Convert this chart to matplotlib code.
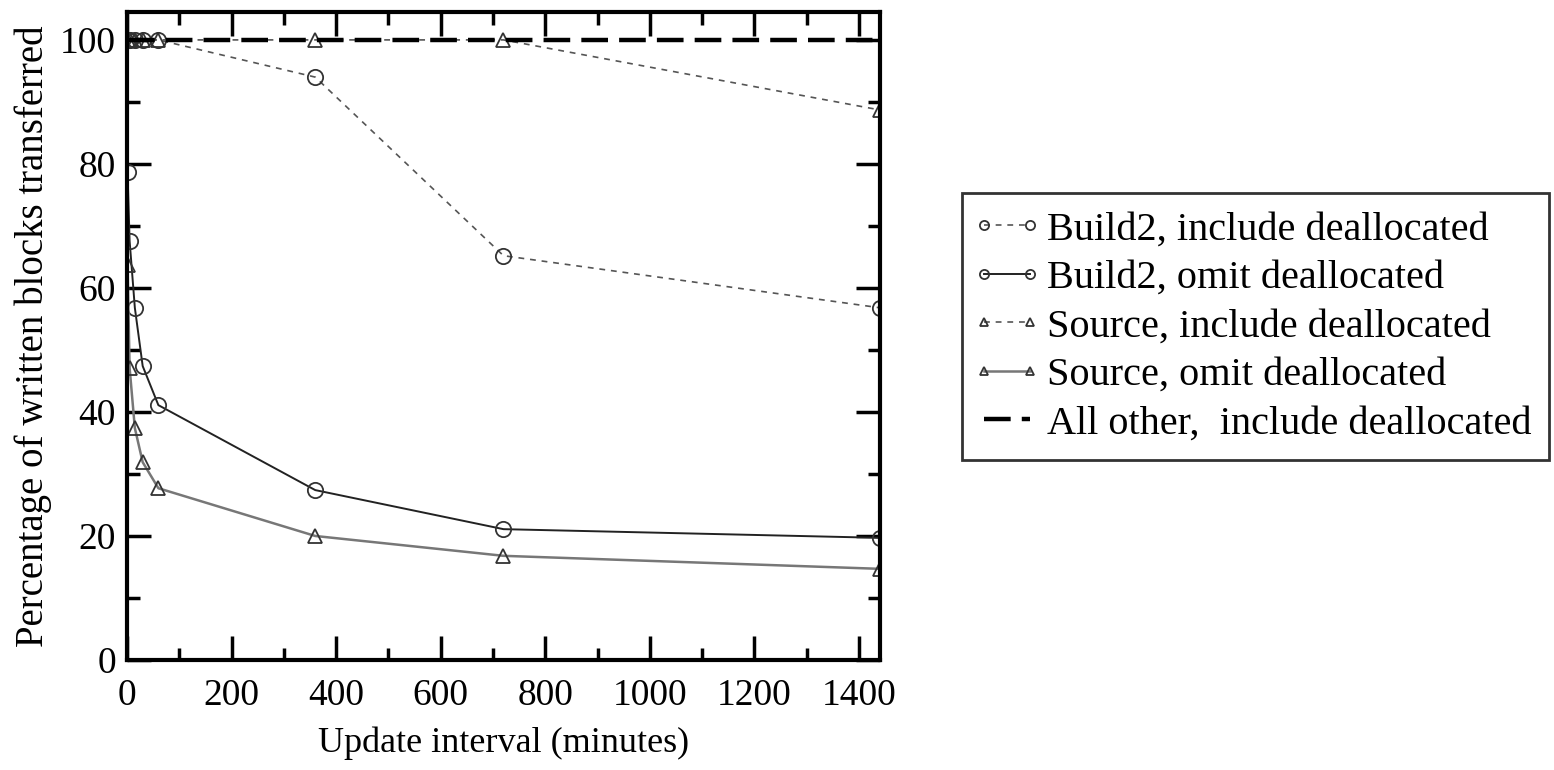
import numpy as np
import matplotlib.pyplot as plt
from matplotlib.ticker import MultipleLocator
from matplotlib.lines import Line2D
from matplotlib.legend_handler import HandlerLine2D

plt.rcParams['font.family'] = ['Liberation Serif', 'DejaVu Serif']

# update intervals (minutes)
intervals = [1, 5, 15, 30, 60, 360, 720, 1440]

build2_incl = [100, 100, 100, 100, 100, 94, 65.2, 56.8]
build2_omit = [78.7, 67.6, 56.8, 47.4, 41.1, 27.4, 21.1, 19.7]
source_incl = [100, 100, 100, 100, 100, 100, 100, 88.7]
source_omit = [63.7, 47.1, 37.4, 31.9, 27.7, 20.0, 16.8, 14.7]
all_other = [100, 100, 100, 100, 100, 100, 100, 100]

fig = plt.figure(figsize=(15.54, 7.70), dpi=100)
ax = fig.add_axes([127 / 1554, 1 - 660 / 770, (880 - 127) / 1554, (660 - 12) / 770])

mk = dict(markerfacecolor='none', markeredgecolor='#333333', markeredgewidth=1.3)

ax.plot(intervals, build2_incl, linestyle=(0, (3.5, 3.5)), color='#555555', lw=1.2,
        marker='o', markersize=11, label='Build2, include deallocated', **mk)
ax.plot(intervals, build2_omit, linestyle='-', color='#222222', lw=1.4,
        marker='o', markersize=11, label='Build2, omit deallocated', **mk)
ax.plot(intervals, source_incl, linestyle=(0, (3.5, 3.5)), color='#555555', lw=1.2,
        marker='^', markersize=10, label='Source, include deallocated', **mk)
ax.plot(intervals, source_omit, linestyle='-', color='#777777', lw=1.8,
        marker='^', markersize=10, label='Source, omit deallocated', **mk)
ax.plot(intervals, all_other, linestyle=(0, (6, 2.5)), color='black', lw=3.2,
        label='All other,  include deallocated')

ax.set_xlim(0, 1440)
ax.set_ylim(0, 104.5)
ax.xaxis.set_major_locator(MultipleLocator(200))
ax.xaxis.set_minor_locator(MultipleLocator(100))
ax.yaxis.set_major_locator(MultipleLocator(20))
ax.yaxis.set_minor_locator(MultipleLocator(10))
ax.tick_params(which='both', direction='in', top=True, right=True, width=2.5, labelsize=27)
ax.tick_params(which='major', length=17, pad=8)
ax.tick_params(axis='x', which='major', pad=13)
ax.tick_params(which='minor', length=9)
for s in ax.spines.values():
    s.set_linewidth(3)

ax.set_xlabel('Update interval (minutes)', fontsize=26, labelpad=10)
ax.set_ylabel('Percentage of written blocks transferred', fontsize=28, labelpad=6)

leg = fig.legend(loc='upper left', bbox_to_anchor=(962 / 1554, 1 - 193 / 770),
                 fontsize=29, frameon=True, fancybox=False, edgecolor='black',
                 handlelength=1.35, borderpad=0.45, labelspacing=0.28, handletextpad=0.3,
                 borderaxespad=0, markerscale=0.6, numpoints=2,
                 handler_map={Line2D: HandlerLine2D(marker_pad=0.1)})
leg.get_frame().set_linewidth(2)

fig.savefig('out.png', dpi=100)
